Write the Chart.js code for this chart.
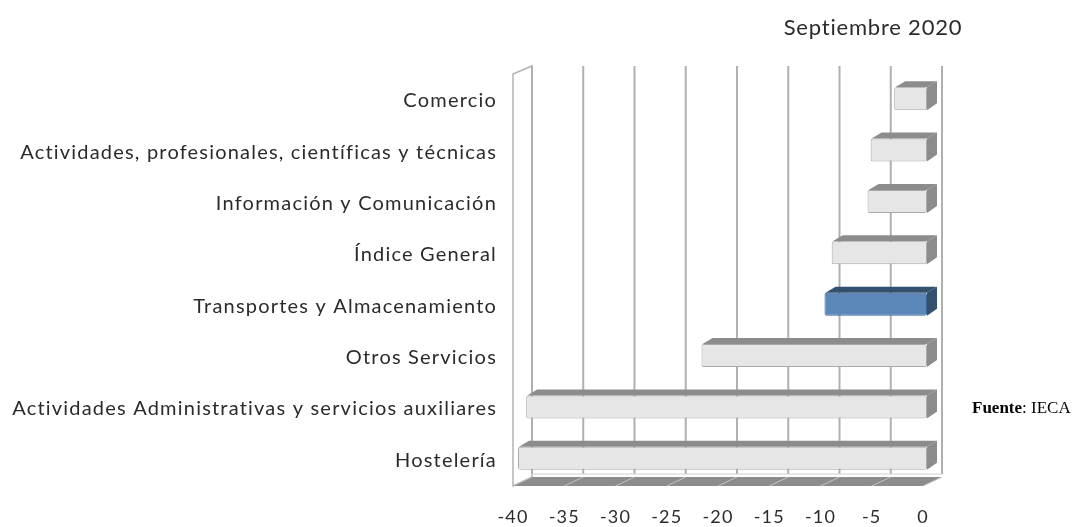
<!DOCTYPE html>
<html>
<head>
<meta charset="utf-8">
<script src="https://cdn.jsdelivr.net/npm/chart.js@4.4.0/dist/chart.umd.min.js"></script>
<style>
  body { margin: 0; background: #fff; }
  #wrap { width: 1079px; height: 527px; }
</style>
</head>
<body>
<div id="wrap"><canvas id="sectoresChart" width="1079" height="527"></canvas></div>
<script>
const categorias = [
  'Comercio',
  'Actividades, profesionales, científicas y técnicas',
  'Información y Comunicación',
  'Índice General',
  'Transportes y Almacenamiento',
  'Otros Servicios',
  'Actividades Administrativas y servicios auxiliares',
  'Hostelería'
];
const variacion = [-3.2, -5.5, -5.8, -9.3, -10.0, -22.0, -39.1, -39.9];
const destacado = 'Transportes y Almacenamiento';
const ticksX = [-40, -35, -30, -25, -20, -15, -10, -5, 0];
const titulo = 'Septiembre 2020';

// profundidad del efecto 3D
const FONDO = { dx: 19, dy: -9 };
const BARRA = { dx: 10, dy: -6 };
const DESPLAZ = { dx: 4, dy: -2 };

const frente = categorias.map(c => c === destacado ? '#5b87b9' : '#e6e6e6');
const borde = categorias.map(c => c === destacado ? '#3f6590' : '#a9a9a9');
const lateral = categorias.map(c => c === destacado ? '#34506f' : '#8c8c8c');

const efecto3d = {
  id: 'efecto3d',
  beforeDraw(chart) {
    chart.ctx.letterSpacing = '1.2px';
  },
  beforeDatasetsDraw(chart) {
    const ctx = chart.ctx;
    const a = chart.chartArea;
    const xs = chart.scales.x;
    const topB = a.top + FONDO.dy, botB = a.bottom + FONDO.dy;
    ctx.save();
    // pared izquierda
    ctx.fillStyle = '#ffffff';
    ctx.strokeStyle = '#b4b4b4';
    ctx.lineWidth = 1.5;
    ctx.beginPath();
    ctx.moveTo(a.left, a.top - 1);
    ctx.lineTo(a.left + FONDO.dx, topB);
    ctx.lineTo(a.left + FONDO.dx, botB);
    ctx.lineTo(a.left, a.bottom);
    ctx.closePath();
    ctx.fill();
    ctx.stroke();
    // suelo
    ctx.fillStyle = '#8c8c8c';
    ctx.beginPath();
    ctx.moveTo(a.left, a.bottom);
    ctx.lineTo(a.left + FONDO.dx, botB);
    ctx.lineTo(a.right + FONDO.dx, botB);
    ctx.lineTo(a.right, a.bottom);
    ctx.closePath();
    ctx.fill();
    ctx.strokeStyle = '#c4c4c4';
    ctx.lineWidth = 1;
    ticksX.forEach(v => {
      const px = xs.getPixelForValue(v);
      ctx.beginPath();
      ctx.moveTo(px + FONDO.dx, botB);
      ctx.lineTo(px, a.bottom);
      ctx.stroke();
    });
    // rejilla de la pared del fondo
    ctx.strokeStyle = '#b0b0b0';
    ctx.lineWidth = 2;
    ticksX.forEach(v => {
      const px = xs.getPixelForValue(v) + FONDO.dx;
      ctx.beginPath();
      ctx.moveTo(px, topB);
      ctx.lineTo(px, botB - 3);
      ctx.stroke();
    });
    ctx.strokeStyle = '#d0d0d0';
    ctx.lineWidth = 1;
    ctx.beginPath();
    ctx.moveTo(a.left + FONDO.dx, botB - 3);
    ctx.lineTo(a.right + FONDO.dx, botB - 3);
    ctx.stroke();
    ctx.restore();
    ctx.save();
    ctx.translate(DESPLAZ.dx, DESPLAZ.dy);
  },
  afterDatasetsDraw(chart) {
    const ctx = chart.ctx;
    const meta = chart.getDatasetMeta(0);
    meta.data.forEach((bar, i) => {
      const p = bar.getProps(['x', 'y', 'base', 'height'], true);
      const left = Math.min(p.x, p.base), right = Math.max(p.x, p.base);
      const top = p.y - p.height / 2, bottom = p.y + p.height / 2;
      ctx.fillStyle = lateral[i];
      // cara superior
      ctx.beginPath();
      ctx.moveTo(left + 1, top);
      ctx.lineTo(left + 1 + BARRA.dx, top + BARRA.dy);
      ctx.lineTo(right + BARRA.dx, top + BARRA.dy);
      ctx.lineTo(right, top);
      ctx.closePath();
      ctx.fill();
      // cara lateral
      ctx.beginPath();
      ctx.moveTo(right, top);
      ctx.lineTo(right + BARRA.dx, top + BARRA.dy);
      ctx.lineTo(right + BARRA.dx, bottom + BARRA.dy - 1);
      ctx.lineTo(right, bottom);
      ctx.closePath();
      ctx.fill();
    });
    ctx.restore();
  },
  afterDraw(chart) {
    const ctx = chart.ctx;
    ctx.save();
    ctx.letterSpacing = '0.8px';
    ctx.fillStyle = '#2b2b2b';
    ctx.font = '22px Lato';
    ctx.textAlign = 'center';
    ctx.textBaseline = 'middle';
    ctx.fillText(titulo, 873, 28);
    ctx.letterSpacing = '0px';
    ctx.textAlign = 'left';
    ctx.fillStyle = '#000000';
    ctx.font = 'bold 17px "Liberation Serif"';
    ctx.fillText('Fuente', 972, 409);
    const w = ctx.measureText('Fuente').width;
    ctx.font = '17px "Liberation Serif"';
    ctx.fillText(': IECA', 972 + w, 409);
    ctx.restore();
  }
};

new Chart(document.getElementById('sectoresChart').getContext('2d'), {
  type: 'bar',
  data: {
    labels: categorias,
    datasets: [{
      data: variacion,
      backgroundColor: frente,
      borderColor: borde,
      borderWidth: 1,
      borderRadius: 2,
      borderSkipped: false,
      barPercentage: 0.45,
      categoryPercentage: 1
    }]
  },
  options: {
    indexAxis: 'y',
    responsive: false,
    animation: false,
    layout: { padding: { top: 75, right: 156, left: 0, bottom: 0 } },
    plugins: { legend: { display: false }, tooltip: { enabled: false } },
    scales: {
      x: {
        min: -40, max: 0,
        grid: { display: false, drawTicks: false },
        border: { display: false },
        afterFit: s => { s.height = 41; },
        afterBuildTicks: s => { s.ticks = ticksX.map(v => ({ value: v })); },
        ticks: { color: '#2b2b2b', padding: 20, font: { family: 'Lato', size: 18 } }
      },
      y: {
        grid: { display: false, drawTicks: false },
        border: { display: false },
        afterFit: s => { s.width = 513; },
        ticks: { color: '#2b2b2b', padding: 16, font: { family: 'Lato', size: 20 } }
      }
    }
  },
  plugins: [efecto3d]
});
</script>
</body>
</html>
